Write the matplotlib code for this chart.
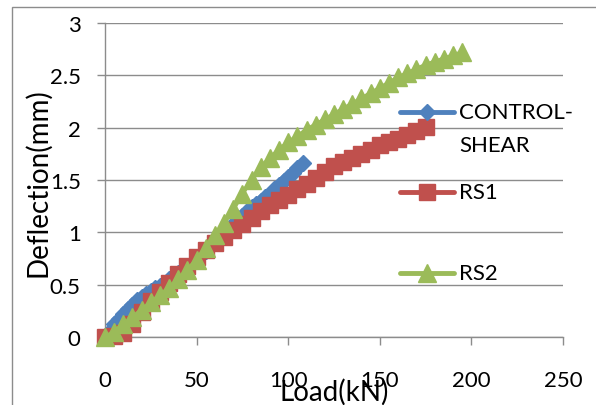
import matplotlib
matplotlib.use('Agg')
import matplotlib.pyplot as plt
from matplotlib.patches import Rectangle

plt.rcParams['font.family'] = ['Lato', 'DejaVu Sans']

# Load (kN) and deflection (mm) for each beam
control_load = [0, 2.5, 5, 7.5, 10, 12.5, 15, 17.5, 20, 22.5, 25, 27.5, 30, 32.5,
                35, 37.5, 40, 42.5, 45, 47.5, 50, 52.5, 55, 57.5, 60, 62.5, 65,
                67.5, 70, 72.5, 75, 77.5, 80, 82.5, 85, 87.5, 90, 92.5, 95, 97.5,
                100, 102.5, 105, 108]
control_defl = [0, 0.06, 0.12, 0.17, 0.22, 0.27, 0.31, 0.35, 0.38, 0.41, 0.44,
                0.47, 0.49, 0.52, 0.55, 0.58, 0.61, 0.64, 0.67, 0.71, 0.75, 0.78,
                0.82, 0.86, 0.91, 0.95, 0.99, 1.03, 1.08, 1.12, 1.16, 1.20, 1.24,
                1.27, 1.30, 1.34, 1.37, 1.41, 1.45, 1.49, 1.53, 1.57, 1.61, 1.66]

rs1_load = [0, 5, 10, 15, 20, 25, 30, 35, 40, 45, 50, 55, 60, 65, 70, 75, 80,
            85, 90, 95, 100, 105, 110, 115, 120, 125, 130, 135, 140, 145, 150,
            155, 160, 165, 170, 175]
rs1_defl = [0, 0.01, 0.04, 0.12, 0.24, 0.34, 0.43, 0.52, 0.60, 0.68, 0.76, 0.83,
            0.90, 0.96, 1.02, 1.08, 1.14, 1.20, 1.26, 1.31, 1.36, 1.41, 1.46,
            1.52, 1.58, 1.63, 1.67, 1.71, 1.75, 1.79, 1.83, 1.86, 1.89, 1.93,
            1.97, 2.01]

rs2_load = [0, 5, 10, 15, 20, 25, 30, 35, 40, 45, 50, 55, 60, 65, 70, 75, 80,
            85, 90, 95, 100, 105, 110, 115, 120, 125, 130, 135, 140, 145, 150,
            155, 160, 165, 170, 175, 180, 185, 190, 195]
rs2_defl = [0, 0.05, 0.12, 0.19, 0.26, 0.33, 0.40, 0.47, 0.55, 0.64, 0.74, 0.85,
            0.97, 1.09, 1.22, 1.37, 1.50, 1.62, 1.71, 1.79, 1.86, 1.92, 1.98,
            2.03, 2.08, 2.13, 2.18, 2.23, 2.28, 2.33, 2.38, 2.43, 2.48, 2.52,
            2.56, 2.60, 2.63, 2.66, 2.69, 2.72]

names = ['CONTROL-\nSHEAR', 'RS1', 'RS2']
x_ticks = [0, 50, 100, 150, 200, 250]
y_ticks = [0, 0.5, 1, 1.5, 2, 2.5, 3]

grey = '#8c8c8c'
styles = [('#4f81bd', 'D', 8.5), ('#c0504d', 's', 12), ('#9bbb59', '^', 13)]

fig = plt.figure(figsize=(5.96, 4.06), dpi=100)
ax = fig.add_axes([0.1762, 0.1675, 0.7684, 0.7734])

series = [(control_load, control_defl), (rs1_load, rs1_defl), (rs2_load, rs2_defl)]
for (xs, ys), (col, mk, ms) in zip(series, styles):
    ax.plot(xs, ys, color=col, lw=3, marker=mk, markersize=ms,
            markeredgecolor=col, clip_on=False, zorder=3)

ax.set_xlim(0, 250)
ax.set_ylim(0, 3)
ax.set_xticks(x_ticks)
ax.set_yticks(y_ticks)
ax.set_yticklabels(['0', '0.5', '1', '1.5', '2', '2.5', '3'])
ax.grid(axis='y', color=grey, lw=1.0)
ax.set_axisbelow(True)
for side in ['top', 'right']:
    ax.spines[side].set_visible(False)
for side in ['left', 'bottom']:
    ax.spines[side].set_color(grey)
    ax.spines[side].set_linewidth(1.0)
ax.tick_params(axis='both', direction='out', length=5.5, width=1.0, color=grey,
               labelsize=16)
ax.tick_params(axis='x', pad=18)
ax.tick_params(axis='y', pad=12)

ax.set_xlabel('Load(kN)', fontsize=20)
ax.xaxis.set_label_coords(0.5, -0.172)
ax.xaxis.label.set_va('center')
ax.set_ylabel('Deflection(mm)', fontsize=20)
ax.yaxis.set_label_coords(-0.146, 0.495)
ax.yaxis.label.set_va('center')

# legend drawn inside the plot like the excel one
leg_y = [0.7166, 0.4618, 0.2038]
for name, (col, mk, ms), y in zip(names, styles, leg_y):
    ax.plot([0.644, 0.762], [y, y], transform=ax.transAxes, color=col, lw=3.5,
            solid_capstyle='round', clip_on=False, zorder=5)
    ax.plot([0.703], [y], transform=ax.transAxes, color=col, marker=mk,
            markersize=ms, clip_on=False, zorder=6)
    for k, line in enumerate(name.split('\n')):
        ax.text(0.773, y - k * 0.105, line, transform=ax.transAxes,
                fontsize=16, va='center', ha='left', zorder=6)

fig.add_artist(Rectangle((12 / 596, -0.2), 1.2, 1.2 - 8 / 406,
                         transform=fig.transFigure, fill=False,
                         edgecolor=grey, lw=1.0))

fig.savefig('out.png', dpi=100)
